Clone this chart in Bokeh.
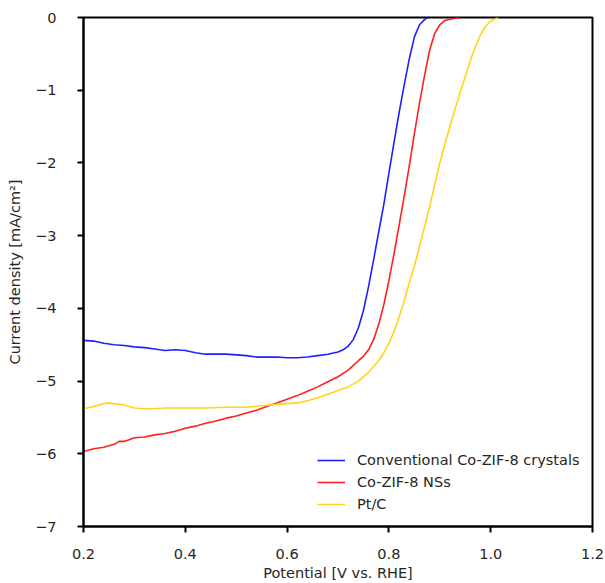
from bokeh.plotting import figure
from bokeh.models import Legend, LegendItem, Range1d, FixedTicker
from bokeh.embed import file_html
from bokeh.resources import INLINE

blue_x = [0.20, 0.22, 0.24, 0.26, 0.28, 0.30, 0.32, 0.34, 0.36, 0.38, 0.40, 0.42, 0.44, 0.46, 0.48,
          0.50, 0.52, 0.54, 0.56, 0.58, 0.60, 0.62, 0.64, 0.66, 0.68, 0.70, 0.71, 0.72, 0.73, 0.74,
          0.75, 0.76, 0.77, 0.78, 0.79, 0.80, 0.81, 0.82, 0.83, 0.84, 0.85, 0.86, 0.87, 0.876]
blue_y = [-4.44, -4.45, -4.48, -4.50, -4.51, -4.53, -4.54, -4.56, -4.58, -4.57, -4.58, -4.61, -4.63, -4.63, -4.63,
          -4.64, -4.65, -4.67, -4.67, -4.67, -4.68, -4.68, -4.67, -4.65, -4.63, -4.60, -4.57, -4.52, -4.43, -4.27,
          -4.03, -3.70, -3.33, -2.95, -2.57, -2.14, -1.72, -1.31, -0.93, -0.57, -0.27, -0.10, -0.03, 0.0]

red_x = [0.20, 0.22, 0.24, 0.26, 0.27, 0.28, 0.30, 0.32, 0.34, 0.36, 0.38, 0.40, 0.42, 0.44, 0.46,
         0.48, 0.50, 0.52, 0.54, 0.56, 0.58, 0.60, 0.62, 0.64, 0.66, 0.68, 0.70, 0.72, 0.74, 0.75,
         0.76, 0.77, 0.78, 0.79, 0.80, 0.81, 0.82, 0.83, 0.84, 0.85, 0.86, 0.87, 0.88, 0.89, 0.90,
         0.91, 0.93, 0.94]
red_y = [-5.97, -5.93, -5.91, -5.87, -5.83, -5.83, -5.78, -5.77, -5.74, -5.72, -5.69, -5.65, -5.62, -5.58, -5.55,
         -5.51, -5.48, -5.44, -5.40, -5.35, -5.30, -5.25, -5.20, -5.14, -5.08, -5.01, -4.94, -4.85, -4.72, -4.66,
         -4.57, -4.43, -4.22, -3.95, -3.62, -3.25, -2.86, -2.46, -2.04, -1.60, -1.18, -0.80, -0.45, -0.22, -0.10,
         -0.04, -0.01, 0.0]

yellow_x = [0.20, 0.22, 0.24, 0.25, 0.26, 0.28, 0.30, 0.32, 0.34, 0.36, 0.40, 0.44, 0.48, 0.52, 0.55,
            0.58, 0.60, 0.62, 0.64, 0.66, 0.68, 0.70, 0.72, 0.74, 0.76, 0.78, 0.79, 0.80, 0.81, 0.82,
            0.83, 0.84, 0.85, 0.86, 0.87, 0.88, 0.89, 0.90, 0.91, 0.92, 0.93, 0.94, 0.95, 0.96, 0.97,
            0.98, 0.99, 1.00, 1.015]
yellow_y = [-5.38, -5.35, -5.31, -5.30, -5.31, -5.33, -5.37, -5.38, -5.38, -5.37, -5.37, -5.37, -5.36, -5.36, -5.34,
            -5.32, -5.31, -5.30, -5.27, -5.23, -5.18, -5.13, -5.08, -5.00, -4.88, -4.72, -4.61, -4.48, -4.32, -4.12,
            -3.90, -3.65, -3.42, -3.15, -2.88, -2.60, -2.30, -2.00, -1.74, -1.50, -1.26, -1.03, -0.81, -0.59, -0.40,
            -0.24, -0.12, -0.05, 0.0]

labels = ["Conventional Co-ZIF-8 crystals", "Co-ZIF-8 NSs", "Pt/C"]
colors = ["#2020ff", "#ff2020", "#ffd51a"]
x_ticks = [0.2, 0.4, 0.6, 0.8, 1.0, 1.2]
y_ticks = [0, -1, -2, -3, -4, -5, -6, -7]

FONT = "DejaVu Sans"
TXT = "#262626"
FS = "14.5px"

p = figure(width=605, height=583, output_backend="svg", toolbar_location=None,
           x_range=Range1d(0.2, 1.2), y_range=Range1d(-7, 0),
           min_border_left=83, min_border_top=17, min_border_right=13, min_border_bottom=55)
p.background_fill_color = "white"
p.border_fill_color = "white"
p.grid.visible = False
p.outline_line_color = "black"
p.outline_line_width = 2
p.outline_line_alpha = 1.0

r_blue = p.line(blue_x, blue_y, line_color=colors[0], line_width=1.6)
r_red = p.line(red_x, red_y, line_color=colors[1], line_width=1.6)
r_yel = p.line(yellow_x, yellow_y, line_color=colors[2], line_width=1.6)

for ax in (p.xaxis[0], p.yaxis[0]):
    ax.axis_line_color = "black"
    ax.axis_line_width = 2
    ax.major_tick_line_color = "black"
    ax.major_tick_line_width = 2
    ax.major_tick_in = 0
    ax.major_tick_out = 6
    ax.minor_tick_line_color = None
    ax.major_label_text_font = FONT
    ax.major_label_text_font_size = FS
    ax.major_label_text_color = TXT
    ax.axis_label_text_font = FONT
    ax.axis_label_text_font_size = FS
    ax.axis_label_text_font_style = "normal"
    ax.axis_label_text_color = TXT

p.xaxis[0].ticker = FixedTicker(ticks=x_ticks)
p.yaxis[0].ticker = FixedTicker(ticks=y_ticks)
p.xaxis[0].major_label_overrides = {t: f"{t:.1f}" for t in x_ticks}
p.yaxis[0].major_label_overrides = {t: (str(t).replace("-", "\u2212")) for t in y_ticks}
p.xaxis[0].axis_label = "Potential [V vs. RHE]"
p.yaxis[0].axis_label = "Current density [mA/cm\u00b2]"
p.xaxis[0].major_label_standoff = 16
p.xaxis[0].axis_label_standoff = 3
p.yaxis[0].major_label_standoff = 21
p.yaxis[0].axis_label_standoff = 9

legend = Legend(items=[LegendItem(label=labels[0], renderers=[r_blue]),
                       LegendItem(label=labels[1], renderers=[r_red]),
                       LegendItem(label=labels[2], renderers=[r_yel])],
                location=(234, 11), padding=0, margin=0, spacing=0,
                glyph_width=28, glyph_height=22, label_height=22, label_standoff=12,
                label_text_font=FONT, label_text_font_size=FS, label_text_color=TXT,
                border_line_color=None, background_fill_alpha=0)
p.add_layout(legend, "center")

open("out.html", "w").write(file_html(p, INLINE))
